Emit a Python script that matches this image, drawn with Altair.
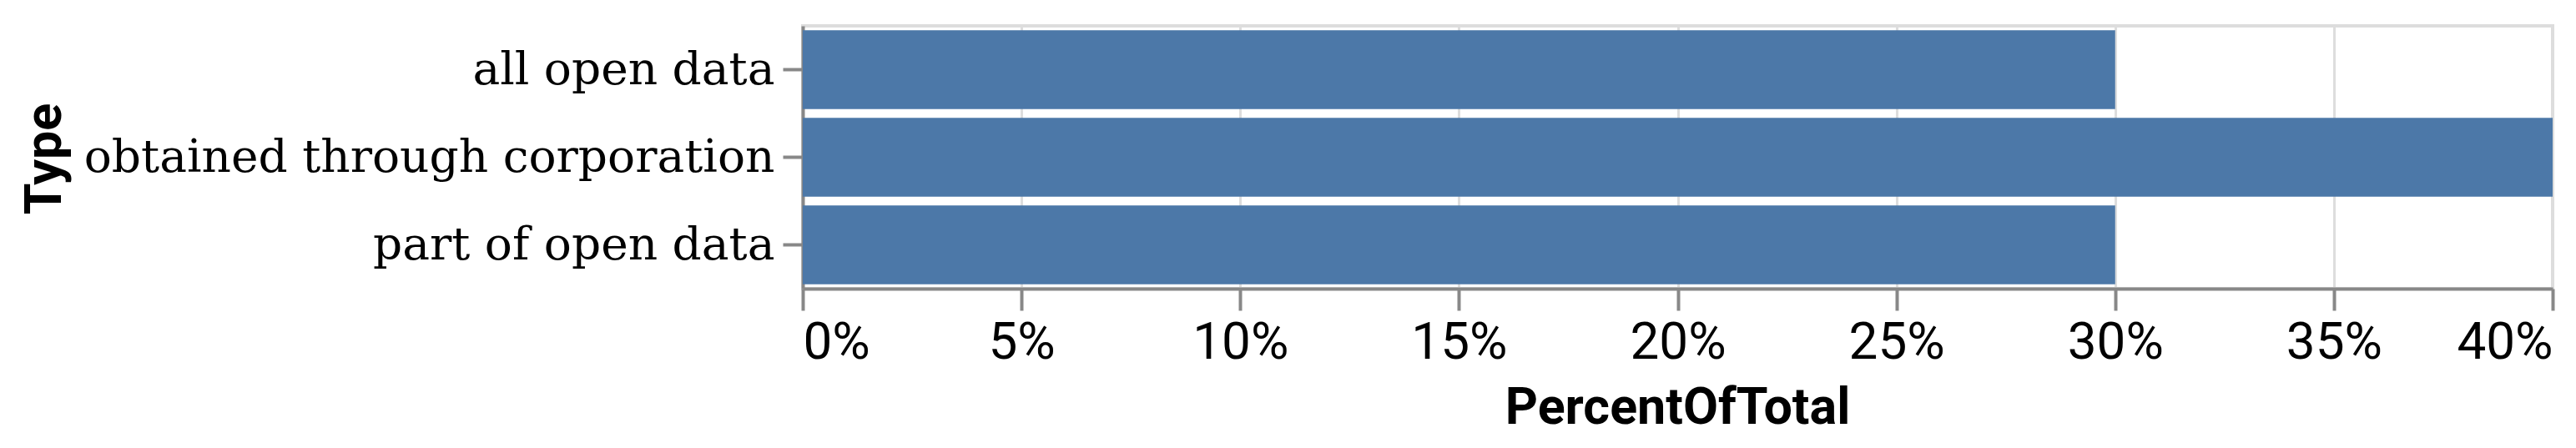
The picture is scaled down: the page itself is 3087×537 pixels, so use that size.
import altair as alt
import pandas as pd

types = ["all open data", "obtained through corporation", "part of open data"]
percent = [0.30, 0.40, 0.30]
tick_values = [0, 0.05, 0.1, 0.15, 0.2, 0.25, 0.3, 0.35, 0.4]

df = pd.DataFrame({"Type": types, "PercentOfTotal": percent})

chart = (
    alt.Chart(df)
    .mark_bar(color="#4c78a8")
    .encode(
        x=alt.X(
            "PercentOfTotal:Q",
            title="PercentOfTotal",
            scale=alt.Scale(domain=[0, 0.4], nice=False),
            axis=alt.Axis(
                format="%",
                values=tick_values,
                labelFont="Roboto",
                labelFontSize=62,
                labelColor="#000",
                labelPadding=8,
                labelFlush=True,
                tickSize=26,
                tickWidth=4,
                tickColor="#888",
                domainWidth=4,
                domainColor="#888",
                gridWidth=3,
                gridColor="#ddd",
                titleFont="Roboto",
                titleFontSize=61,
                titleFontWeight="bold",
                titleColor="#000",
                titleBaseline="alphabetic",
                titleX=1048,
                titleY=161,
            ),
        ),
        y=alt.Y(
            "Type:N",
            title="Type",
            sort=types,
            axis=alt.Axis(
                labelFont="DejaVu Serif",
                labelFontSize=55,
                labelColor="#000",
                labelPadding=10,
                labelLimit=2000,
                tickSize=24,
                tickWidth=4,
                tickColor="#888",
                domainWidth=4,
                domainColor="#888",
                titleFont="Roboto",
                titleFontSize=61,
                titleFontWeight="bold",
                titleColor="#000",
                titleBaseline="alphabetic",
                titleAngle=270,
                titleX=-890,
                titleY=159,
            ),
        ),
    )
    .properties(
        width=2097,
        height=315,
        autosize=alt.AutoSizeParams(type="none"),
        padding={"left": 954, "top": 23, "right": 20, "bottom": 183},
    )
    .configure_view(stroke="#ddd", strokeWidth=4)
)

chart.save("out.html", embed_options={"renderer": "svg", "actions": False})
